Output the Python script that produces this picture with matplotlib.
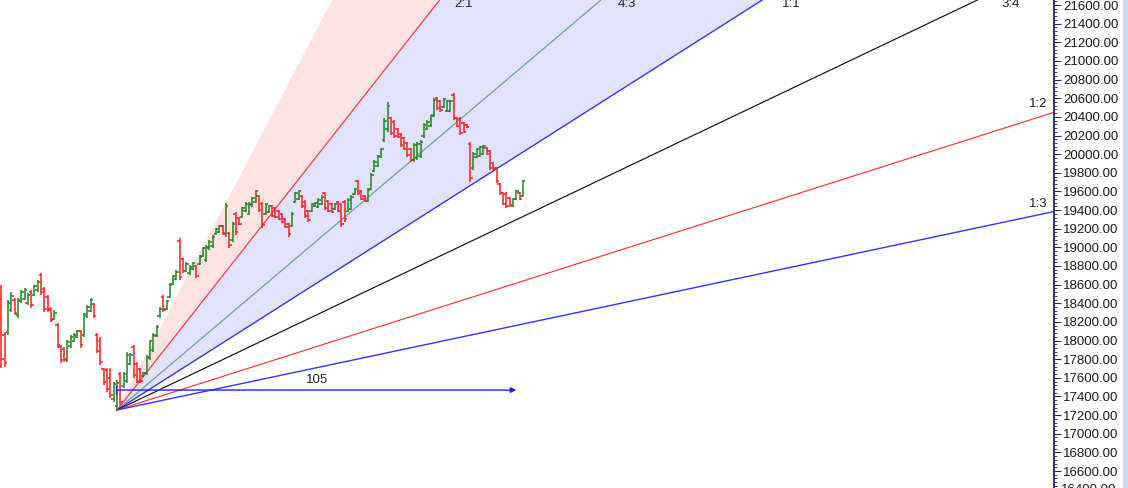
import numpy as np
import matplotlib.pyplot as plt
from matplotlib.patches import Rectangle
from matplotlib.ticker import MultipleLocator, FormatStrFormatter

plt.rcParams["font.family"] = ["Liberation Sans", "DejaVu Sans"]

# daily OHLC bars
opens = [18450, 18060, 18090, 18330, 18440, 18270, 18420, 18450, 18400, 18520,
         18490, 18540, 18700, 18550, 18470, 18340, 18230, 18170, 17930, 17910,
         17790, 17940, 17990, 18040, 18100, 18060, 18260, 18320, 18390, 18060,
         18000, 17690, 17680, 17600, 17370, 17300, 17640, 17510, 17570, 17750,
         17930, 17750, 17690, 17615, 17650, 17810, 17900, 18050, 18260, 18470,
         18340, 18470, 18610, 18660, 19070, 18870, 18750, 18720, 18770, 18800,
         18820, 18910, 18860, 18990, 19010, 19140, 19165, 19230, 19140, 19150,
         19080, 19360, 19320, 19330, 19390, 19360, 19450, 19490, 19550, 19460,
         19360, 19380, 19440, 19420, 19390, 19360, 19300, 19250, 19230, 19490,
         19520, 19550, 19490, 19390, 19390, 19440, 19435, 19465, 19580, 19495,
         19465, 19410, 19485, 19460, 19490, 19395, 19415, 19570, 19710, 19600,
         19555, 19500, 19630, 19820, 19875, 19970, 20150, 20270, 20385, 20350,
         20270, 20215, 20170, 20115, 20050, 19935, 19955, 19975, 20190, 20270,
         20300, 20415, 20600, 20570, 20505, 20465, 20465, 20640, 20385, 20380,
         20335, 20315, 20110, 19850, 19970, 19980, 20005, 20070, 20030, 19905,
         19850, 19680, 19580, 19575, 19530, 19445, 19520, 19585, 19555]
highs = [18596, 18092, 18435, 18521, 18456, 18456, 18542, 18564, 18510, 18542,
         18596, 18650, 18725, 18574, 18489, 18360, 18328, 18188, 17952, 17931,
         18006, 18059, 18081, 18113, 18113, 18296, 18381, 18456, 18403, 18081,
         18038, 17705, 17705, 17705, 17555, 17577, 17662, 17662, 17877, 17866,
         17952, 17770, 17705, 17662, 17845, 18006, 18081, 18167, 18360, 18489,
         18435, 18617, 18703, 18757, 19100, 18886, 18843, 18811, 18843, 18811,
         18918, 19004, 19025, 19079, 19132, 19208, 19240, 19240, 19476, 19165,
         19272, 19379, 19326, 19433, 19487, 19487, 19540, 19615, 19562, 19487,
         19476, 19454, 19454, 19433, 19401, 19369, 19315, 19261, 19379, 19594,
         19615, 19562, 19508, 19401, 19476, 19487, 19529, 19562, 19594, 19508,
         19476, 19476, 19497, 19476, 19508, 19529, 19562, 19637, 19723, 19615,
         19562, 19637, 19798, 19937, 19991, 20066, 20388, 20560, 20399, 20366,
         20281, 20227, 20184, 20130, 20066, 20120, 20130, 20152, 20334, 20366,
         20420, 20602, 20613, 20581, 20602, 20581, 20581, 20656, 20399, 20399,
         20345, 20323, 20130, 20023, 20066, 20087, 20098, 20077, 20044, 19916,
         19862, 19690, 19594, 19594, 19540, 19529, 19615, 19594, 19723]
lows = [17705, 17716, 18059, 18306, 18274, 18242, 18403, 18435, 18381, 18349,
        18478, 18521, 18489, 18306, 18306, 18199, 18220, 17920, 17759, 17770,
        17770, 17920, 17984, 18027, 17920, 18038, 18242, 18306, 18242, 17866,
        17738, 17523, 17448, 17383, 17341, 17255, 17308, 17491, 17544, 17738,
        17598, 17544, 17544, 17609, 17630, 17791, 17877, 18038, 18242, 18306,
        18328, 18456, 18596, 18650, 18650, 18725, 18735, 18703, 18757, 18671,
        18811, 18896, 18843, 18971, 18993, 19132, 19154, 19132, 19111, 18993,
        19057, 19132, 19240, 19315, 19379, 19347, 19433, 19476, 19379, 19208,
        19347, 19369, 19326, 19315, 19293, 19261, 19208, 19111, 19218, 19476,
        19508, 19422, 19315, 19272, 19379, 19433, 19422, 19454, 19401, 19379,
        19369, 19401, 19379, 19218, 19272, 19379, 19401, 19562, 19562, 19508,
        19487, 19487, 19615, 19808, 19862, 19959, 20130, 20238, 20205, 20173,
        20173, 20077, 20044, 19969, 19916, 19916, 19937, 19959, 20173, 20259,
        20291, 20399, 20474, 20452, 20495, 20452, 20452, 20366, 20291, 20205,
        20227, 20281, 19701, 19830, 19959, 19969, 19991, 19991, 19830, 19830,
        19690, 19562, 19454, 19422, 19433, 19433, 19508, 19508, 19540]
closes = [17800, 17760, 18400, 18480, 18300, 18430, 18520, 18540, 18490, 18380,
          18580, 18630, 18520, 18340, 18330, 18220, 18300, 17950, 17790, 17800,
          17980, 18040, 18060, 18100, 17950, 18280, 18360, 18440, 18260, 17890,
          17770, 17550, 17480, 17420, 17530, 17540, 17340, 17640, 17850, 17850,
          17630, 17570, 17570, 17655, 17820, 17990, 18060, 18150, 18340, 18330,
          18420, 18600, 18690, 18740, 18680, 18750, 18820, 18790, 18830, 18690,
          18900, 18990, 19000, 19060, 19110, 19200, 19230, 19150, 19440, 19020,
          19250, 19160, 19250, 19420, 19470, 19470, 19530, 19600, 19400, 19240,
          19460, 19440, 19340, 19330, 19300, 19275, 19220, 19140, 19360, 19580,
          19600, 19440, 19340, 19290, 19460, 19480, 19510, 19545, 19420, 19395,
          19380, 19465, 19395, 19250, 19300, 19510, 19545, 19625, 19580, 19520,
          19495, 19620, 19780, 19920, 19975, 20050, 20360, 20520, 20230, 20195,
          20185, 20095, 20060, 19990, 19935, 20100, 20110, 20135, 20315, 20350,
          20405, 20585, 20490, 20470, 20590, 20565, 20570, 20390, 20305, 20230,
          20240, 20290, 19740, 20000, 20050, 20075, 20085, 20000, 19850, 19840,
          19710, 19580, 19470, 19440, 19450, 19515, 19600, 19520, 19710]

# Gann fan anchored at the swing low
fan_origin_bar = 35
fan_origin_price = 17255
fan_points_per_bar = 22.5
fan_ratios = [3, 2, 4 / 3, 1, 3 / 4, 1 / 2, 1 / 3]
fan_labels = ["3:1", "2:1", "4:3", "1:1", "3:4", "1:2", "1:3"]
fan_colors = [None, "#ff3535", "#5f9f9f", "#3434ff", "#111111", "#ff3535", "#3434ff"]

# bar count marker
span_end_bar = 156
span_price = 17469
span_label = "105"

x_min, x_max = -0.45, 318.9
y_min, y_max = 16418, 21654

navy = "#23236e"
up_color = "#1f861f"
down_color = "#ff1f1f"

fig = plt.figure(figsize=(11.28, 4.88), dpi=100)
ax = fig.add_axes([0, 0, 1054 / 1128, 1])
ax.set_xlim(x_min, x_max)
ax.set_ylim(y_min, y_max)

# fan lines and shaded zones
fan_x = np.linspace(fan_origin_bar, x_max + 5, 200)
fan_y = [fan_origin_price + r * fan_points_per_bar * (fan_x - fan_origin_bar) for r in fan_ratios]
ax.fill_between(fan_x, fan_y[1], fan_y[0], color="#ffe2e2", lw=0, zorder=1)
ax.fill_between(fan_x, fan_y[3], fan_y[1], color="#e2e2fc", lw=0, zorder=1)

for r, lab, col, yy in zip(fan_ratios, fan_labels, fan_colors, fan_y):
    if col is None:
        continue
    lw = 1.0 if col == "#3434ff" else 0.85
    ax.plot(fan_x, yy, color=col, lw=lw, zorder=2)
    slope = r * fan_points_per_bar
    top_bar = fan_origin_bar + (y_max + 80 - fan_origin_price) / slope
    if top_bar < x_max:
        ax.annotate(lab, xy=(top_bar, y_max), xytext=(6.0, -4.7),
                    textcoords="offset points", ha="left", va="baseline",
                    fontsize=9.5, color="#222222", annotation_clip=False)
    else:
        edge_price = fan_origin_price + slope * (x_max - fan_origin_bar)
        ax.annotate(lab, xy=(x_max, edge_price), xytext=(-4.5, 3.5),
                    textcoords="offset points", ha="right", va="baseline",
                    fontsize=9.5, color="#222222")

# OHLC bars
xs = np.arange(len(closes))
colors = [up_color if c >= o else down_color for o, c in zip(opens, closes)]
ax.vlines(xs, lows, highs, colors=colors, lw=1.1, zorder=3)
ax.hlines(opens, xs - 0.75, xs, colors=colors, lw=1.1, zorder=3)
ax.hlines(closes, xs, xs + 0.75, colors=colors, lw=1.1, zorder=3)

# bar count arrow
ax.annotate("", xy=(span_end_bar, span_price), xytext=(fan_origin_bar, span_price),
            arrowprops=dict(arrowstyle="-|>", color="#2020ff", lw=1.0,
                            mutation_scale=8, shrinkA=0, shrinkB=0), zorder=4)
ax.plot([fan_origin_bar - 0.3] * 2, [span_price - 45, span_price + 45],
        color="#2020ff", lw=1.0, zorder=4)
ax.annotate(span_label, xy=((fan_origin_bar + span_end_bar) / 2, span_price),
            xytext=(0, 3), textcoords="offset points", ha="center", va="bottom",
            fontsize=9.5, color="#222222")

# price axis on the right
for side in ["left", "top", "bottom"]:
    ax.spines[side].set_visible(False)
ax.spines["right"].set_color(navy)
ax.spines["right"].set_linewidth(1.3)
ax.set_xticks([])
ax.yaxis.tick_right()
ax.yaxis.set_major_locator(MultipleLocator(200))
ax.yaxis.set_minor_locator(MultipleLocator(40))
ax.yaxis.set_major_formatter(FormatStrFormatter("%.2f"))
ax.tick_params(axis="y", which="major", direction="out", length=5, width=0.8,
               color=navy, labelsize=9.5, labelcolor="#1a1a1a", pad=1.5)
ax.tick_params(axis="y", which="minor", direction="out", length=2.5, width=0.6,
               color=navy)

# lowest price label, only partly inside the window
ax.annotate("%.2f" % 16400, xy=(x_max, 16400), xytext=(5.2, 0),
            textcoords="offset points", ha="left", va="center",
            fontsize=9.5, color="#1a1a1a", annotation_clip=False)

fig.patches.append(Rectangle((1123 / 1128, 0), 5 / 1128, 1, transform=fig.transFigure,
                             color="#c8dbf0", zorder=0))

fig.savefig("out.png", dpi=100)
